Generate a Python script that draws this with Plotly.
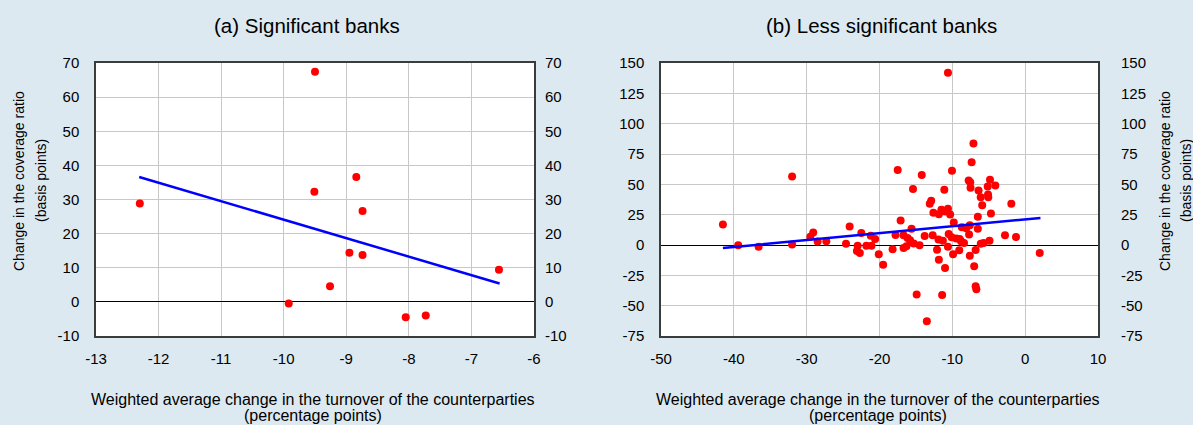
import plotly.graph_objects as go

# ---- data: (a) significant banks ----
sig_x = [-12.30, -9.50, -9.51, -8.84, -8.74, -8.95, -8.74, -9.26, -9.92, -8.05, -7.73, -6.56]
sig_y = [28.8, 67.4, 32.3, 36.6, 26.6, 14.4, 13.7, 4.6, -0.5, -4.5, -4.0, 9.4]
sig_fit_x = [-12.31, -6.55]
sig_fit_y = [36.6, 5.4]

# ---- data: (b) less significant banks ----
lsi_x = [-10.6, -7.1, -7.35, -17.5, -10.05, -32.0, -14.2, -7.76, -7.54, -4.83,
         -4.1, -5.15, -7.5, -15.4, -11.1, -6.4, -5.1, -5.06, -6.1, -12.9,
         -13.1, -1.9, -5.9, -11.5, -10.6, -11.0, -12.6, -11.85, -10.3, -4.7,
         -6.5, -17.1, -9.8, -24.1, -15.6, -7.6, -8.7, -8.1, -6.5, -41.5,
         -29.1, -29.5, -22.5, -17.8, -16.7, -10.5, -7.7, -2.77, -1.26, -21.2,
         -20.6, -13.8, -12.7, -10.1, -9.46, -9.0, -16.15, -15.8, -11.9, -11.3,
         -8.8, -8.4, -4.9, -28.5, -27.3, -24.6, -32.0, -39.4, -36.6, -23.0,
         -21.8, -21.1, -15.3, -14.5, -16.3, -16.7, -18.2, -10.6, -6.1, -5.7,
         -6.8, -9.05, -12.1, -23.1, -22.7, -20.1, -9.9, -7.6, 2.0, -19.5,
         -11.85, -7.0, -11.0, -6.8, -6.7, -14.9, -11.4, -13.5]
lsi_y = [142.0, 83.6, 68.1, 61.8, 61.2, 56.5, 57.6, 53.2, 51.8, 53.8,
         49.1, 48.3, 47.2, 46.1, 45.5, 44.9, 41.6, 39.4, 39.4, 36.4,
         33.9, 33.9, 32.8, 29.0, 29.8, 27.6, 26.5, 25.4, 25.1, 25.9,
         23.2, 20.1, 18.5, 15.2, 13.3, 16.3, 14.6, 13.8, 13.3, 16.8,
         10.2, 6.9, 9.9, 8.3, 8.0, 9.1, 8.6, 8.0, 6.6, 7.7,
         5.0, 7.5, 8.0, 6.4, 5.3, 5.0, 5.8, 3.9, 4.5, 3.4,
         3.1, 1.7, 3.6, 2.8, 3.0, 1.1, 0.5, -0.3, -1.4, -0.6,
         -0.6, -0.6, 1.3, -0.3, -1.1, -2.5, -3.6, -1.4, 1.1, 1.7,
         -4.1, -4.4, -3.9, -5.0, -6.6, -7.7, -7.7, -8.8, -6.6, -16.3,
         -12.1, -17.6, -19.0, -33.9, -36.4, -40.8, -41.3, -62.8]
lsi_fit_x = [-41.5, 2.1]
lsi_fit_y = [-2.5, 22.3]

# tick labels
sig_xticks = [-13, -12, -11, -10, -9, -8, -7, -6]
sig_yticks = [-10, 0, 10, 20, 30, 40, 50, 60, 70]
lsi_xticks = [-50, -40, -30, -20, -10, 0, 10]
lsi_yticks = [-75, -50, -25, 0, 25, 50, 75, 100, 125, 150]

panel_titles = ["(a) Significant banks", "(b) Less significant banks"]
x_title_1 = "Weighted average change in the turnover of the counterparties"
x_title_2 = "(percentage points)"
y_title_1 = "Change in the coverage ratio"
y_title_2 = "(basis points)"

BG = "rgb(221,233,241)"
FONT = "Liberation Sans, Arial, Helvetica, sans-serif"
RED = "rgb(255,0,0)"
BLUE = "rgb(0,0,255)"
GRID = "rgb(200,200,200)"

W, H = 1193, 425
ML, MR, MT, MB = 96, 95, 63, 89
PW = W - ML - MR
PH = H - MT - MB


def px(x):
    return (x - ML) / PW


def py(y):
    return (H - MB - y) / PH


def labels(vals):
    return [str(v) for v in vals]


fig = go.Figure()

# panel a
fig.add_trace(go.Scatter(x=sig_x, y=sig_y, mode="markers", xaxis="x", yaxis="y",
                         marker=dict(color=RED, size=8), showlegend=False))
fig.add_trace(go.Scatter(x=sig_fit_x, y=sig_fit_y, mode="lines", xaxis="x", yaxis="y",
                         line=dict(color=BLUE, width=2.5), showlegend=False))
fig.add_trace(go.Scatter(x=sig_x, y=sig_y, mode="markers", xaxis="x", yaxis="y3",
                         marker=dict(opacity=0), hoverinfo="skip", showlegend=False))
# panel b
fig.add_trace(go.Scatter(x=lsi_x, y=lsi_y, mode="markers", xaxis="x2", yaxis="y2",
                         marker=dict(color=RED, size=8), showlegend=False))
fig.add_trace(go.Scatter(x=lsi_fit_x, y=lsi_fit_y, mode="lines", xaxis="x2", yaxis="y2",
                         line=dict(color=BLUE, width=2.5), showlegend=False))
fig.add_trace(go.Scatter(x=lsi_x, y=lsi_y, mode="markers", xaxis="x2", yaxis="y4",
                         marker=dict(opacity=0), hoverinfo="skip", showlegend=False))

tickfont = dict(family=FONT, size=15, color="black")
common_x = dict(showgrid=True, gridcolor=GRID, gridwidth=1, zeroline=False,
                showline=True, linecolor="rgb(60,60,60)", linewidth=1.5, mirror=True,
                ticks="", tickfont=tickfont, ticklabelstandoff=8, tickmode="array")
common_y = dict(showgrid=True, gridcolor=GRID, gridwidth=1, zeroline=True,
                zerolinecolor="black", zerolinewidth=1.2,
                showline=True, linecolor="rgb(60,60,60)", linewidth=1.5, mirror=True,
                ticks="", tickfont=tickfont, tickmode="array")
right_y = dict(showgrid=False, zeroline=False, showline=False, ticks="",
               tickfont=tickfont, tickmode="array")

d1 = [0, px(534)]
d2 = [px(661), 1]

fig.update_layout(
    width=W, height=H,
    margin=dict(l=ML, r=MR, t=MT, b=MB),
    paper_bgcolor=BG, plot_bgcolor="white",
    font=dict(family=FONT, color="black"),
    xaxis=dict(domain=d1, range=[-13, -6], anchor="y",
               tickvals=sig_xticks, ticktext=labels(sig_xticks), **common_x),
    yaxis=dict(domain=[0, 1], range=[-10, 70], anchor="x", ticklabelstandoff=12,
               tickvals=sig_yticks, ticktext=labels(sig_yticks), **common_y),
    yaxis3=dict(range=[-10, 70], overlaying="y", side="right", anchor="x",
                ticklabelstandoff=10, tickvals=sig_yticks, ticktext=labels(sig_yticks),
                **right_y),
    xaxis2=dict(domain=d2, range=[-50, 10], anchor="y2",
                tickvals=lsi_xticks, ticktext=labels(lsi_xticks), **common_x),
    yaxis2=dict(domain=[0, 1], range=[-75, 150], anchor="x2", ticklabelstandoff=12,
                tickvals=lsi_yticks, ticktext=labels(lsi_yticks), **common_y),
    yaxis4=dict(range=[-75, 150], overlaying="y2", side="right", anchor="x2",
                ticklabelstandoff=22, tickvals=lsi_yticks, ticktext=labels(lsi_yticks),
                **right_y),
)

ann = []
for cx, t in zip([307, 881], panel_titles):
    ann.append(dict(text=t, x=px(cx), y=py(25), xref="paper", yref="paper",
                    xanchor="center", yanchor="middle", showarrow=False,
                    font=dict(family=FONT, size=20.5, color="black")))
for cx in [313, 878]:
    ann.append(dict(text=x_title_1, x=px(cx), y=py(399), xref="paper", yref="paper",
                    xanchor="center", yanchor="middle", showarrow=False,
                    font=dict(family=FONT, size=16, color="black")))
    ann.append(dict(text=x_title_2, x=px(cx), y=py(415), xref="paper", yref="paper",
                    xanchor="center", yanchor="middle", showarrow=False,
                    font=dict(family=FONT, size=16, color="black")))
for c1, c2 in [(19, 41), (1165, 1186)]:
    ann.append(dict(text=y_title_1, x=px(c1), y=py(181), xref="paper", yref="paper",
                    xanchor="center", yanchor="middle", showarrow=False, textangle=-90,
                    font=dict(family=FONT, size=14, color="black")))
    ann.append(dict(text=y_title_2, x=px(c2), y=py(181), xref="paper", yref="paper",
                    xanchor="center", yanchor="middle", showarrow=False, textangle=-90,
                    font=dict(family=FONT, size=14, color="black")))
fig.update_layout(annotations=ann)

fig.write_html("out.html", config={"displayModeBar": False},
               post_script="document.body.style.margin='0';document.body.style.padding='0';")
